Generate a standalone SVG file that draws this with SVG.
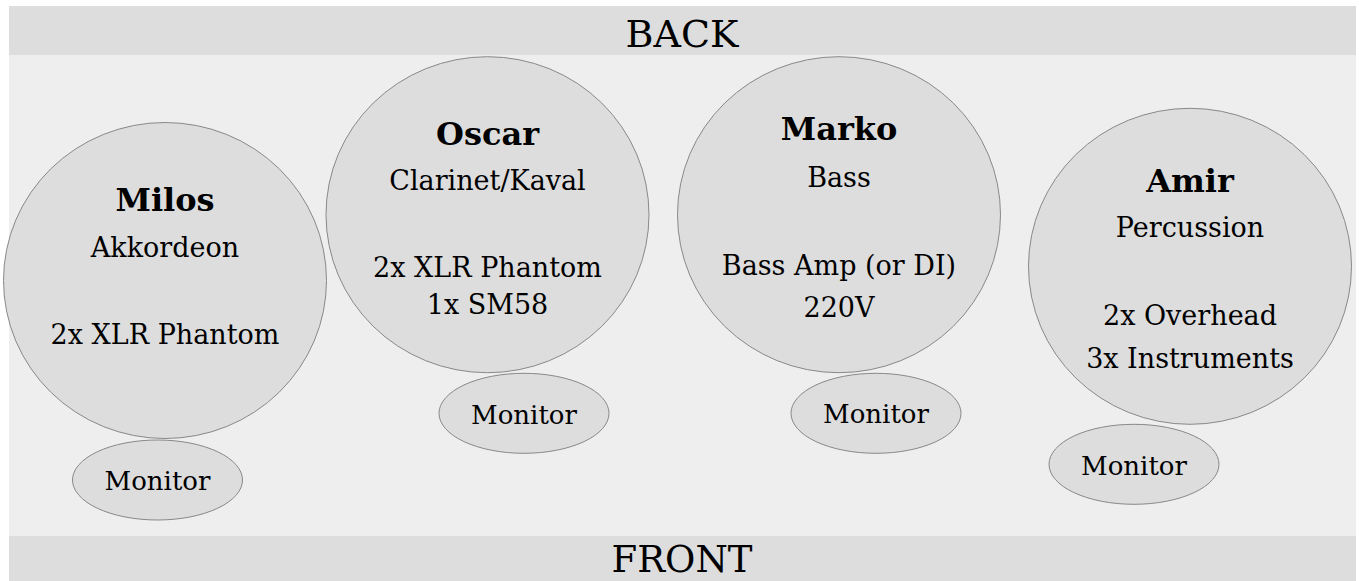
<svg xmlns="http://www.w3.org/2000/svg" width="1359" height="581" viewBox="0 0 1359 581">
<style>
text{font-family:"DejaVu Serif","Liberation Serif",serif;fill:#000;text-anchor:middle}
.band{fill:#dddddd}
.stage{fill:#eeeeee}
.p{fill:#dddddd;stroke:#888888;stroke-width:1}
.name{font-weight:bold;font-size:32px}
.t{font-size:27px}
.mon{font-size:26px}
.edge{font-size:38px}
.edgef{font-size:37px}
</style>
<rect x="0" y="0" width="1359" height="581" fill="#ffffff"/>
<rect class="stage" x="9" y="55" width="1347" height="481"/>
<g id="back"><rect class="band" x="9" y="6" width="1347" height="49"/><text class="edge" x="682" y="46.5">BACK</text></g>
<g id="front"><rect class="band" x="9" y="536" width="1347" height="45"/><text class="edge edgef" x="682" y="572">FRONT</text></g>
<g id="milos">
<ellipse class="p" cx="165" cy="280.5" rx="161.5" ry="158"/>
<text class="name" x="165" y="211">Milos</text>
<text class="t" x="165" y="256.5">Akkordeon</text>
<text class="t" x="165" y="344">2x XLR Phantom</text>
</g>
<g id="milos-monitor">
<ellipse class="p" cx="157.5" cy="480" rx="85" ry="40"/>
<text class="mon" x="157.5" y="490">Monitor</text>
</g>
<g id="oscar">
<ellipse class="p" cx="487.5" cy="214.7" rx="161.5" ry="158"/>
<text class="name" x="487.5" y="145">Oscar</text>
<text class="t" x="487.5" y="190">Clarinet/Kaval</text>
<text class="t" x="487.5" y="277">2x XLR Phantom</text>
<text class="t" x="487.5" y="314">1x SM58</text>
</g>
<g id="oscar-monitor">
<ellipse class="p" cx="524" cy="413.3" rx="85" ry="40"/>
<text class="mon" x="524" y="424">Monitor</text>
</g>
<g id="marko">
<ellipse class="p" cx="839" cy="214.7" rx="161.5" ry="158"/>
<text class="name" x="839" y="140">Marko</text>
<text class="t" x="839" y="186.5">Bass</text>
<text class="t" x="839" y="275">Bass Amp (or DI)</text>
<text class="t" x="839" y="317">220V</text>
</g>
<g id="marko-monitor">
<ellipse class="p" cx="876" cy="413.3" rx="85" ry="40"/>
<text class="mon" x="876" y="423">Monitor</text>
</g>
<g id="amir">
<ellipse class="p" cx="1190" cy="266.3" rx="161.5" ry="158"/>
<text class="name" x="1190" y="191.5">Amir</text>
<text class="t" x="1190" y="236.5">Percussion</text>
<text class="t" x="1190" y="325">2x Overhead</text>
<text class="t" x="1190" y="368">3x Instruments</text>
</g>
<g id="amir-monitor">
<ellipse class="p" cx="1134" cy="464.3" rx="85" ry="40"/>
<text class="mon" x="1134" y="475">Monitor</text>
</g>
<g id="connectors"/>
</svg>
